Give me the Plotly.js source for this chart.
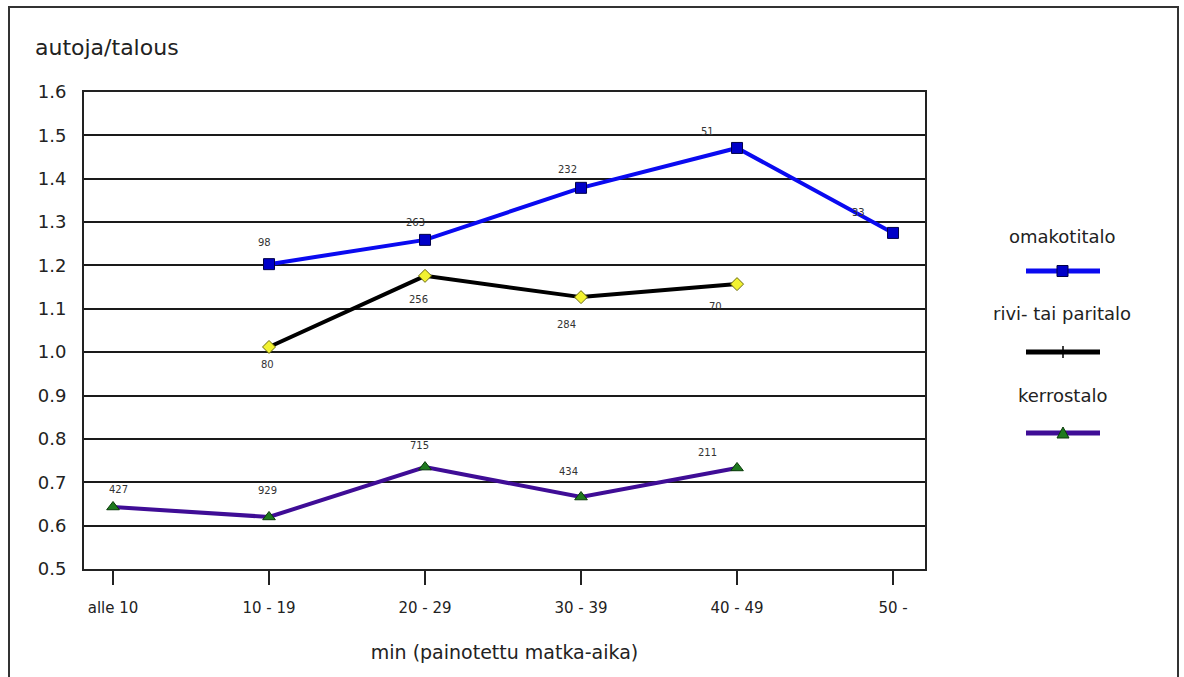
<!DOCTYPE html>
<html>
<head>
<meta charset="utf-8">
<script src="https://cdn.plot.ly/plotly-3.0.1.min.js"></script>
<style>
  html, body { margin: 0; padding: 0; background: #fff; }
  #chart { width: 1184px; height: 677px; }
  #frame { position: absolute; left: 8px; top: 6px; width: 1167px; height: 720px;
           border: 2px solid #333; border-bottom: none; pointer-events: none; }
</style>
</head>
<body>
<div id="chart"></div>
<div id="frame"></div>
<script>
// ---- data ----
const categories = ["alle 10", "10 - 19", "20 - 29", "30 - 39", "40 - 49", "50 -"];
const seriesNames = ["omakotitalo", "rivi- tai paritalo", "kerrostalo"];
const omakotitalo = [null, 1.203, 1.259, 1.379, 1.471, 1.275];
const rivitalo    = [null, 1.012, 1.176, 1.127, 1.157, null];
const kerrostalo  = [0.643, 0.620, 0.735, 0.666, 0.733, null];
const omakotitaloN = [null, "98", "263", "232", "51", "33"];
const rivitaloN    = [null, "80", "256", "284", "70", null];
const kerrostaloN  = ["427", "929", "715", "434", "211", null];
const yTicks = [0.5, 0.6, 0.7, 0.8, 0.9, 1.0, 1.1, 1.2, 1.3, 1.4, 1.5, 1.6];
const yTickText = ["0.5","0.6","0.7","0.8","0.9","1.0","1.1","1.2","1.3","1.4","1.5","1.6"];

// ---- styles / label offsets (pixels) ----
const FONT = "DejaVu Sans, Tahoma, sans-serif";
const offsOmak = [null, [-5,-22], [-10,-17], [-14,-18], [-30,-16], [-35,-20]];
const offsRivi = [null, [-2,18], [-7,24], [-15,27], [-22,22], null];
const offsKerr = [[5,-17], [-2,-26], [-6,-22], [-13,-26], [-30,-15], null];

const L = 84, R = 925, T = 92, B = 569;
const px2x = p => (p - L) / (R - L);
const px2y = p => (B - p) / (B - T);

const traces = [
  { x: categories, y: omakotitalo, name: seriesNames[0], type: "scatter", mode: "lines+markers",
    line: { color: "#0a0af0", width: 4 },
    marker: { symbol: "square", size: 11, color: "#0000c8", line: { color: "#00004a", width: 1 } },
    connectgaps: false },
  { x: categories, y: rivitalo, name: seriesNames[1], type: "scatter", mode: "lines+markers",
    line: { color: "#000000", width: 4 },
    marker: { symbol: "diamond", size: 10, color: "#f2f230", line: { color: "#6b6b10", width: 1 } } },
  { x: categories, y: kerrostalo, name: seriesNames[2], type: "scatter", mode: "lines+markers",
    line: { color: "#3f0d96", width: 4 },
    marker: { symbol: "triangle-up", size: 11, color: "#1f7a1f", line: { color: "#0a3a0a", width: 1 } } }
];

const annotations = [];
function addLabels(vals, labels, offs) {
  vals.forEach((v, i) => {
    if (v === null || labels[i] === null) return;
    annotations.push({ x: categories[i], y: v, xref: "x", yref: "y", text: labels[i],
      showarrow: false, xshift: offs[i][0], yshift: -offs[i][1],
      font: { family: FONT, size: 10, color: "#333" } });
  });
}
addLabels(omakotitalo, omakotitaloN, offsOmak);
addLabels(rivitalo, rivitaloN, offsRivi);
addLabels(kerrostalo, kerrostaloN, offsKerr);

// legend (manual: text above line sample)
const legendItems = [
  { name: seriesNames[0], ty: 237, ly: 271, color: "#0a0af0", mark: "square", mcolor: "#0000c8" },
  { name: seriesNames[1], ty: 313, ly: 352, color: "#000000", mark: "tick", mcolor: "#000" },
  { name: seriesNames[2], ty: 395, ly: 433, color: "#3f0d96", mark: "tri", mcolor: "#1f7a1f" }
];
const shapes = [];
legendItems.forEach(it => {
  annotations.push({ xref: "paper", yref: "paper", x: px2x(1062), y: px2y(it.ty), text: it.name,
    showarrow: false, xanchor: "center", yanchor: "middle",
    font: { family: FONT, size: 18, color: "#222" } });
  shapes.push({ type: "line", xref: "paper", yref: "paper", x0: px2x(1026), x1: px2x(1100),
    y0: px2y(it.ly), y1: px2y(it.ly), line: { color: it.color, width: 5 } });
  if (it.mark === "square") {
    shapes.push({ type: "rect", xref: "paper", yref: "paper", x0: px2x(1057), x1: px2x(1068),
      y0: px2y(it.ly + 5.5), y1: px2y(it.ly - 5.5), fillcolor: it.mcolor, line: { color: "#00004a", width: 1 } });
  } else if (it.mark === "tick") {
    shapes.push({ type: "line", xref: "paper", yref: "paper", x0: px2x(1063), x1: px2x(1063),
      y0: px2y(it.ly - 6), y1: px2y(it.ly + 6), line: { color: "#000", width: 1.5 } });
  } else {
    shapes.push({ type: "path", xref: "paper", yref: "paper",
      path: `M ${px2x(1057)} ${px2y(it.ly + 5)} L ${px2x(1069)} ${px2y(it.ly + 5)} L ${px2x(1063)} ${px2y(it.ly - 6)} Z`,
      fillcolor: it.mcolor, line: { color: "#0a3a0a", width: 1 } });
  }
});

const layout = {
  width: 1184, height: 677,
  margin: { l: L, r: 1184 - R, t: T, b: 677 - B, pad: 0 },
  paper_bgcolor: "#fff", plot_bgcolor: "#fff",
  showlegend: false,
  font: { family: FONT, color: "#222" },
  title: { text: "autoja/talous", xref: "container", yref: "container", x: 35 / 1184, xanchor: "left",
    y: 1 - 47 / 677, yanchor: "middle", font: { family: FONT, size: 22, color: "#222" } },
  xaxis: {
    type: "category", range: [-0.186, 5.205], fixedrange: true,
    showline: true, mirror: true, linecolor: "#222", linewidth: 2,
    showgrid: false, zeroline: false,
    ticks: "outside", ticklen: 14, tickwidth: 1.5, tickcolor: "#222",
    ticklabelstandoff: 10,
    tickfont: { family: FONT, size: 15, color: "#222" },
    title: { text: "min (painotettu matka-aika)", standoff: 30, font: { family: FONT, size: 19, color: "#222" } }
  },
  yaxis: {
    range: [0.5, 1.6], fixedrange: true,
    tickmode: "array", tickvals: yTicks, ticktext: yTickText,
    showline: true, mirror: true, linecolor: "#222", linewidth: 2,
    showgrid: true, gridcolor: "#1a1a1a", gridwidth: 2, zeroline: false,
    ticks: "", ticklabelstandoff: 12,
    tickfont: { family: FONT, size: 18, color: "#222" }
  },
  annotations: annotations,
  shapes: shapes
};

Plotly.newPlot("chart", traces, layout, { staticPlot: true, displayModeBar: false });
</script>
</body>
</html>
